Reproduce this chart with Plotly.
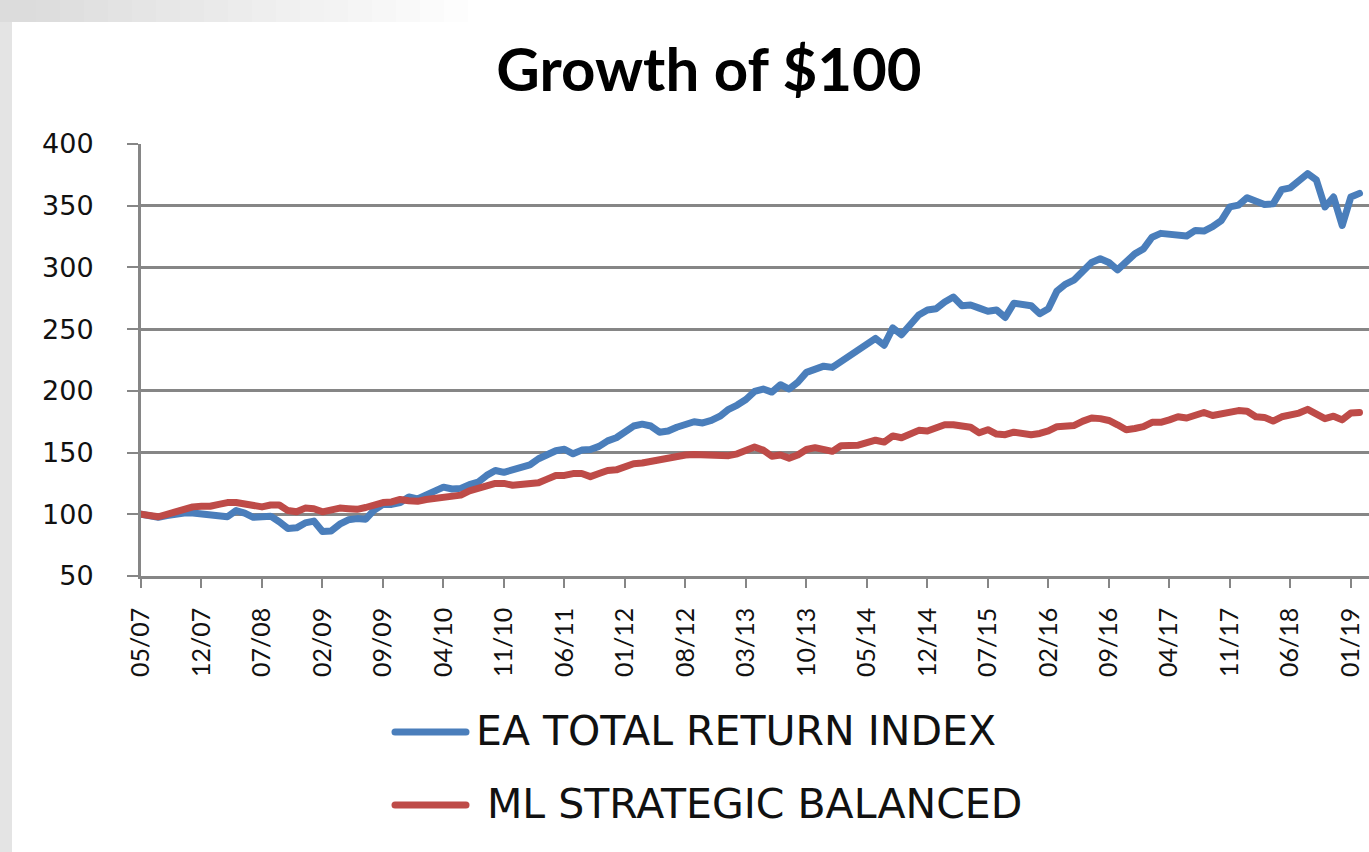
import pandas as pd
import plotly.graph_objects as go

# ---------------- data ----------------
months = list(pd.date_range("2007-05-01", periods=142, freq="MS").strftime("%m/%y"))

tick_labels = ["05/07", "12/07", "07/08", "02/09", "09/09", "04/10", "11/10",
               "06/11", "01/12", "08/12", "03/13", "10/13", "05/14", "12/14",
               "07/15", "02/16", "09/16", "04/17", "11/17", "06/18", "01/19"]

ea_total_return = [
    100, 98.5, 97.5, 99, 100.5, 101, 101, 100.5, 100, 99,
    98, 103, 101, 97.5, 97.5, 98.5, 94, 88.5, 89, 93,
    94.5, 86, 86.5, 92, 95.5, 96.5, 96, 103.5, 108, 108,
    109.5, 114, 112.5, 116, 120, 122, 120.5, 121, 124, 126,
    131.5, 135.5, 134, 136, 137.5, 140, 145, 148.5, 151.5, 152.7,
    149, 152, 152.5, 155, 159.5, 162, 166, 171.5, 173, 171.5,
    166.5, 167.5, 170.5, 173, 175, 174, 176, 179.5, 185, 188.5,
    193, 199.5, 201.5, 199, 205, 201.5, 207, 215, 218, 220,
    219, 224, 229, 234, 239, 242.5, 237, 251, 245.5, 253.5,
    261.5, 265.5, 266.5, 272, 276, 269, 269.5, 267, 264.5, 265.5,
    259.5, 271, 270, 269, 262.5, 266.5, 281, 286.5, 290, 296.5,
    304, 307, 304, 298, 305, 311, 315, 324.5, 327.6, 327,
    326, 325.5, 330, 329.5, 333, 338, 349, 350.5, 356.5, 353,
    351, 351.5, 363, 364.5, 370, 376, 371, 349, 357, 334,
    357, 360,
]

ml_strategic_balanced = [
    100, 98.5, 98, 100, 102, 104, 106, 106.5, 106.5, 108,
    109.5, 109.5, 108, 107, 106, 107.5, 107.5, 103, 102, 105,
    104.5, 102, 103.5, 105, 104.5, 104, 105.5, 107.5, 109.5, 110,
    112, 111, 110.5, 112, 113, 114, 114.5, 115.5, 119, 120.5,
    123, 125, 125, 123.5, 124, 125, 125.5, 128.5, 131.5, 131.5,
    133, 133, 130.5, 133, 135.5, 136, 138.5, 141, 141.5, 143,
    144.5, 145.5, 147, 148, 148.5, 148.5, 148, 147.5, 147.5, 149,
    151.5, 154.5, 152, 147, 148, 145.5, 148, 152.5, 154, 152,
    151, 155.5, 155.5, 156, 158, 160, 158.5, 163.5, 162, 165,
    168, 167.5, 170.5, 172.5, 172.5, 171, 170.5, 166, 168.5, 165,
    164.5, 166.5, 166, 164.5, 165.5, 167.5, 171, 171.5, 172, 175.5,
    178, 177.5, 176, 172.5, 168.5, 169.5, 171, 174.5, 174.5, 176.5,
    179, 178, 180, 182.5, 180, 181, 182.5, 184, 183.5, 179,
    178.5, 175.5, 179, 180, 182, 185, 182, 177.5, 179.5, 176.5,
    182, 182.5,
]

series_names = ["EA TOTAL RETURN INDEX", "ML STRATEGIC BALANCED"]
series_colors = ["#4A7EBB", "#BE4B48"]

# ---------------- layout geometry ----------------
W, H = 1369, 852
L, R, T, B = 141, 0, 144, 276
PW, PH = W - L - R, H - T - B


def pxx(px):
    return (px - L) / PW


def pxy(py):
    return (H - B - py) / PH


fig = go.Figure()
for name, vals, col in zip(series_names, [ea_total_return, ml_strategic_balanced], series_colors):
    fig.add_trace(go.Scatter(x=months, y=vals, mode="lines", name=name,
                             line=dict(color=col, width=7), showlegend=False))

shapes = []
# slide-like background frame
shapes.append(dict(type="rect", xref="paper", yref="paper", x0=pxx(0), x1=pxx(12),
                   y0=pxy(H), y1=pxy(0), fillcolor="#e4e4e4", line=dict(width=0), layer="below"))
n = 20
for i in range(n):
    g = int(0xdc + (0xff - 0xdc) * i / (n - 1))
    shapes.append(dict(type="rect", xref="paper", yref="paper",
                       x0=pxx(12 + i * 480 / n), x1=pxx(12 + (i + 1) * 480 / n + 0.5),
                       y0=pxy(22), y1=pxy(0), fillcolor=f"rgb({g},{g},{g})",
                       line=dict(width=0), layer="below"))
shapes.append(dict(type="rect", xref="paper", yref="paper", x0=pxx(0), x1=pxx(12),
                   y0=pxy(22), y1=pxy(0), fillcolor="#dcdcdc", line=dict(width=0), layer="below"))

# custom legend
legend_y = [732, 805]
legend_text_x = [474, 485]
annotations = []
for name, col, ly, tx in zip(series_names, series_colors, legend_y, legend_text_x):
    shapes.append(dict(type="line", xref="paper", yref="paper", x0=pxx(395), x1=pxx(466),
                       y0=pxy(ly), y1=pxy(ly), line=dict(color=col, width=7)))
    annotations.append(dict(text=name, xref="paper", yref="paper", x=pxx(tx), y=pxy(ly - 1),
                            xanchor="left", yanchor="middle", showarrow=False,
                            font=dict(family="DejaVu Sans", size=41, color="#111111")))

fig.update_layout(
    width=W, height=H,
    margin=dict(l=L, r=R, t=T, b=B, pad=0),
    paper_bgcolor="white", plot_bgcolor="white",
    title=dict(text="<b>Growth of $100</b>", x=709 / W, xref="container", xanchor="center",
               y=1 - 70 / H, yref="container", yanchor="middle",
               font=dict(family="Lato", size=60, color="#000000")),
    shapes=shapes, annotations=annotations, showlegend=False,
)

fig.update_xaxes(type="category", range=[0, 142.1], tickmode="array",
                 tickvals=tick_labels, ticktext=tick_labels, tickangle=-90,
                 ticks="outside", ticklen=9, tickwidth=2, tickcolor="#868686",
                 showline=True, linecolor="#868686", linewidth=2.5, showgrid=False,
                 ticklabelstandoff=10,
                 tickfont=dict(family="Lato", size=25, color="#111111"))
fig.update_yaxes(range=[50, 400], tickmode="linear", tick0=50, dtick=50,
                 ticks="outside", ticklen=11, tickwidth=2, tickcolor="#868686",
                 showline=True, linecolor="#868686", linewidth=3,
                 showgrid=True, gridcolor="#868686", gridwidth=2.5, zeroline=False,
                 ticklabelstandoff=28,
                 tickfont=dict(family="DejaVu Sans", size=27, color="#111111"))

post = (
    "document.body.style.margin='0';document.body.style.overflow='hidden';"
    "document.querySelectorAll('.scatterlayer path.js-line, .shapelayer path').forEach("
    "function(p){p.style.strokeLinejoin='round';p.style.strokeLinecap='round';});"
)
fig.write_html("out.html", config={"displayModeBar": False}, post_script=post)
